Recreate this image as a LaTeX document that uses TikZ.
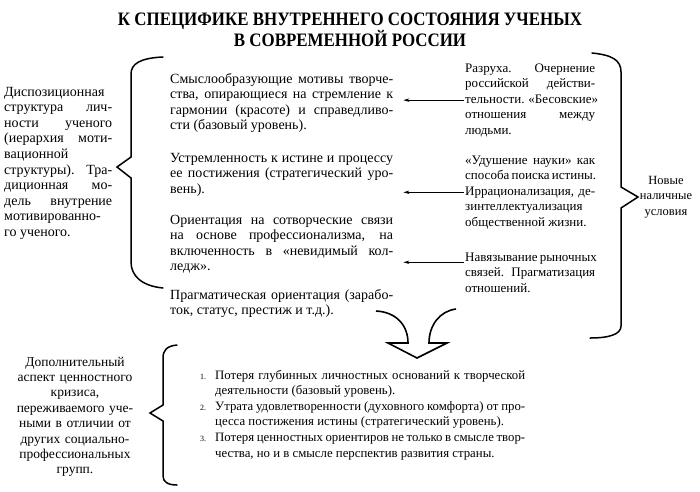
\documentclass[tikz,border=0pt]{standalone}
\usepackage{fontspec}
\setmainfont{Liberation Serif}
\newfontfamily\titlefont[FakeStretch=0.89]{Liberation Serif}
\usetikzlibrary{arrows.meta,positioning}
\newcommand\jl[1]{\hbox to\hsize{\spaceskip=.25em plus 1fil minus .08em\relax#1}}
\newcommand\nl[2]{\hbox{\hbox to15pt{\footnotesize #1\hss}\jl{#2}}}

\begin{document}
\begin{tikzpicture}[x=1pt,y=-1pt,>={Stealth[length=6pt,width=3.4pt]},
  font=\fontsize{14}{15.6}\selectfont,
  blk/.style={inner sep=0pt,anchor=base west},
  fact/.style={blk,font=\fontsize{13}{15.6}\selectfont},
  brace/.style={line width=1.5pt,line cap=round,line join=miter},
  conn/.style={->,line width=.7pt,shorten <=1pt,shorten >=10pt}]
 \useasboundingbox (0,0) rectangle (700,491);
 \node[inner sep=0pt,align=center,font=\titlefont\bfseries\fontsize{19}{17}\selectfont] (title) at (350,30)
  {К СПЕЦИФИКЕ ВНУТРЕННЕГО СОСТОЯНИЯ УЧЕНЫХ\\В СОВРЕМЕННОЙ РОССИИ};
 \node[blk] (disp) at (4,96) {\vtop{\hsize=108pt
  \hbox{Диспозиционная} \jl{структура лич-} \jl{ности ученого} \jl{(иерархия моти-} \hbox{вационной}
  \jl{структуры). Тра-} \jl{диционная мо-} \jl{дель внутрение} \hbox{мотивированно-} \hbox{го ученого.}}};
 \node[blk] (motive1) at (170,83) {\vtop{\hsize=223pt
  \jl{Смыслообразующие мотивы творче-} \jl{ства, опирающиеся на стремление к}
  \jl{гармонии (красоте) и справедливо-} \hbox{сти (базовый уровень).}}};
 \node[blk] (motive2) at (170,162) {\vtop{\hsize=223pt
  \jl{Устремленность к истине и процессу} \jl{ее постижения (стратегический уро-} \hbox{вень).}}};
 \node[blk] (motive3) at (170,224) {\vtop{\hsize=223pt
  \jl{Ориентация на сотворческие связи} \jl{на основе профессионализма, на}
  \jl{включенность в «невидимый кол-} \hbox{ледж».}}};
 \node[blk] (motive4) at (170,299) {\vtop{\hsize=223pt
  \jl{Прагматическая ориентация (зарабо-} \hbox{ток, статус, престиж и т.д.).}}};
 \node[fact] (factor1) at (465,72) {\vtop{\hsize=130pt
  \jl{Разруха. Очернение} \jl{российской действи-} \jl{тельности. «Бесовские»} \jl{отношения между} \hbox{людьми.}}};
 \node[fact] (factor2) at (465,164) {\vtop{\hsize=130pt
  \jl{«Удушение науки» как} \jl{способа поиска истины.} \jl{Иррационализация, де-}
  \hbox{зинтеллектуализация} \hbox{общественной жизни.}}};
 \node[fact] (factor3) at (465,261) {\vtop{\hsize=130pt
  \jl{Навязывание рыночных} \jl{связей. Прагматизация} \hbox{отношений.}}};
 \node[inner sep=0pt,align=center,text width=70pt,anchor=base,font=\fontsize{12.5}{15.6}\selectfont] (cond) at (666,184)
  {Новые\\наличные\\условия};
 \node[inner sep=0pt,align=center,text width=150pt,anchor=base,font=\fontsize{13.5}{15.4}\selectfont] (aspect) at (75,366)
  {Дополнительный\\аспект ценностного\\кризиса,\\переживаемого уче-\\ными в отличии от\\
   других социально-\\профессиональных\\групп.};
 \node[blk,font=\fontsize{12.8}{15.6}\selectfont] (losses) at (200,379) {\vtop{\hsize=310pt
  \nl{1.}{Потеря глубинных личностных оснований к творческой}
  \moveright15pt\hbox{деятельности (базовый уровень).}
  \nl{2.}{Утрата удовлетворенности (духовного комфорта) от про-}
  \moveright15pt\hbox{цесса постижения истины (стратегический уровень).}
  \nl{3.}{Потеря ценностных ориентиров не только в смысле твор-}
  \moveright15pt\hbox{чества, но и в смысле перспектив развития страны.}}};
 \draw[conn] (factor1.west) -- (factor1.west -| motive1.east);
 \draw[conn] (factor2.west) -- (factor2.west -| motive2.east);
 \coordinate (f3) at ([yshift=-10pt]factor3.north west);
 \draw[conn] (f3) -- (f3 -| motive3.east);
 \draw[brace] (163,57) .. controls (140,58) and (131,64) .. (131,74) -- (131,157) -- (117,167)
  -- (131,178) -- (131,262) .. controls (131,276) and (142,286) .. (163,288);
 \draw[brace] (592,53) .. controls (612,55) and (621,60) .. (621,72) -- (621,187) -- (638,197)
  -- (621,208) -- (621,326) .. controls (621,334) and (610,338) .. (590,338);
 \draw[brace] (177,345) .. controls (167,346) and (163,350) .. (163,358) -- (163,405) -- (150,413)
  -- (163,421) -- (163,476) .. controls (163,482) and (168,485) .. (177,485);
 \draw[line width=1.6pt,line join=miter] (376,311) .. controls (396,312) and (408,325) .. (408,343)
  -- (388,343) -- (417,358) -- (447,343) -- (429,343) .. controls (429,325) and (440,311) .. (456,309);
\end{tikzpicture}
\end{document}
